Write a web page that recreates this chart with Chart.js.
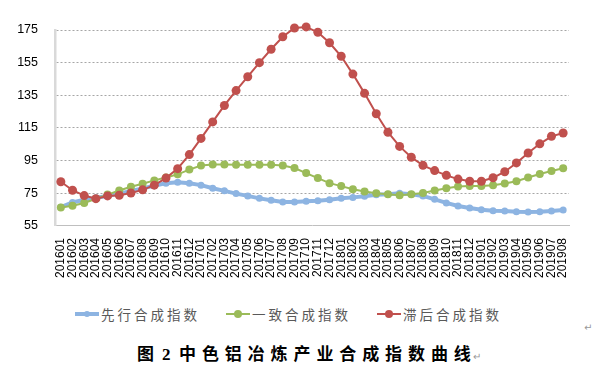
<!DOCTYPE html>
<html><head><meta charset="utf-8">
<script src="https://cdn.jsdelivr.net/npm/chart.js@4/dist/chart.umd.min.js"></script>
<style>
html,body{margin:0;padding:0;background:#fff;width:605px;height:377px;overflow:hidden;position:relative;font-family:"Liberation Sans",Arial,sans-serif;}
#wrap{position:absolute;left:0;top:0;width:605px;height:295px;}
.leg{position:absolute;top:305px;height:18px;display:flex;align-items:center;font-family:"Noto Sans CJK SC",sans-serif;font-size:13.5px;letter-spacing:3px;color:#595959;}
.sw{position:relative;width:24px;height:18px;margin-right:2px;}
.sw .ln{position:absolute;left:0;right:0;top:50%;transform:translateY(-50%);}
.sw .dt{position:absolute;left:50%;top:50%;transform:translate(-50%,-50%);border-radius:50%;}
#title{position:absolute;left:137px;top:343px;font-family:"Liberation Serif","Noto Sans CJK SC",serif;font-weight:bold;font-size:17px;letter-spacing:5.9px;color:#000;white-space:nowrap;line-height:24px;}
#title .g{display:inline-block;overflow:hidden;letter-spacing:0;}
.ret{position:absolute;color:#999;font-size:10px;font-family:"DejaVu Sans",sans-serif;}
</style></head>
<body>
<div id="wrap"><canvas id="c" width="605" height="295"></canvas></div>
<div class="leg" style="left:75px"><div class="sw"><div class="ln" style="height:4px;background:#8DB4E2"></div><div class="dt" style="width:6px;height:6px;background:#8DB4E2"></div></div>先行合成指数</div>
<div class="leg" style="left:226px"><div class="sw"><div class="ln" style="height:2px;background:#9BBB59"></div><div class="dt" style="width:8px;height:8px;background:#9BBB59"></div></div>一致合成指数</div>
<div class="leg" style="left:377px"><div class="sw"><div class="ln" style="height:2px;background:#C0504D"></div><div class="dt" style="width:8px;height:8px;background:#C0504D"></div></div>滞后合成指数</div>
<div class="ret" style="left:584px;top:322px">↵</div>
<div id="title"><span style="letter-spacing:0">图</span><span class="g" style="width:8px"> </span><span style="letter-spacing:0">2</span><span class="g" style="width:8.5px"> </span>中色铝冶炼产业合成指数曲线<span style="font-weight:normal;font-size:10px;color:#999;letter-spacing:0;margin-left:-4px">↵</span></div>
<script>
const categories = ["201601","201602","201603","201604","201605","201606","201607","201608","201609","201610","201611","201612",
"201701","201702","201703","201704","201705","201706","201707","201708","201709","201710","201711","201712",
"201801","201802","201803","201804","201805","201806","201807","201808","201809","201810","201811","201812",
"201901","201902","201903","201904","201905","201906","201907","201908"];
const leading = [66.5,69.4,71,72.3,73.4,74.8,76.5,78,79.6,81.2,81.8,81.2,
80,78.1,76.5,74.8,73.4,71.9,70.7,69.7,69.7,70.1,70.5,71.1,
71.9,72.5,73.2,74.1,74.4,75,74.4,73.4,71.3,69.1,67.2,66,
64.9,64.3,64.1,63.7,63.5,63.7,64.1,64.7];
const coincident = [66.3,67.4,69.1,71.7,74.2,76.7,79,80.8,82.9,84.7,86.6,89.5,
92,92.7,92.6,92.5,92.5,92.5,92.5,92,90.5,87.4,84.3,81.2,
79.4,77.5,76.1,75,74.4,73.8,74.4,75.2,76.7,78.1,79.1,79.5,
79.5,80,81,82.4,84.7,86.8,88.6,90.3];
const lagging = [82.1,76.9,73.6,71.7,73.4,73.8,75.2,77.1,80,84.3,90.1,98.7,
108.6,118.7,128.8,137.9,146.4,155,163.2,170.9,176.2,176.9,173.6,167.2,
158.9,148,136.2,123.7,112.4,103.7,97.1,92.1,88.9,86,83.7,82.4,
82.4,84.5,88.2,93.6,99.7,105.3,109.9,111.9];
const seriesNames = ["先行合成指数","一致合成指数","滞后合成指数"];
const yTicks = [55,75,95,115,135,155,175];

new Chart(document.getElementById('c'), {
  type: 'line',
  data: {
    labels: categories,
    datasets: [
      {label: seriesNames[0], data: leading, borderColor:'#8DB4E2', backgroundColor:'#8DB4E2', borderWidth:4, pointRadius:3.5, pointBorderWidth:0, tension:0, order:2, clip:10},
      {label: seriesNames[1], data: coincident, borderColor:'#9BBB59', backgroundColor:'#9BBB59', borderWidth:2, pointRadius:4, pointBorderWidth:0, tension:0, order:1, clip:10},
      {label: seriesNames[2], data: lagging, borderColor:'#C0504D', backgroundColor:'#C0504D', borderWidth:2, pointRadius:4.5, pointBorderWidth:0, tension:0, order:0, clip:10}
    ]
  },
  options: {
    responsive:false, animation:false, devicePixelRatio:1,
    layout:{padding:{left:0,right:36,top:30,bottom:5}},
    plugins:{legend:{display:false}, title:{display:false}, tooltip:{enabled:false}},
    scales:{
      x:{offset:true, grid:{display:false, drawTicks:false},
         border:{display:true,color:'#BFBFBF',width:1},
         ticks:{autoSkip:false,maxRotation:90,minRotation:90,padding:12,color:'#000',font:{family:'"Liberation Sans", Arial, sans-serif',size:12}}},
      y:{min:55,max:175,
         afterBuildTicks:(s)=>{s.ticks = yTicks.map(v=>({value:v}));},
         afterFit:(s)=>{s.width = 55;},
         grid:{color:(ctx)=>ctx.tick && ctx.tick.value===55?'rgba(0,0,0,0)':'#A6A6A6', lineWidth:1, drawTicks:false},
         border:{display:true,color:'#D9D9D9',width:2.5,dash:[2,2]},
         ticks:{padding:17,color:'#000',font:{family:'"Liberation Sans", Arial, sans-serif',size:12.5}}}
    }
  }
});
</script>
</body></html>
